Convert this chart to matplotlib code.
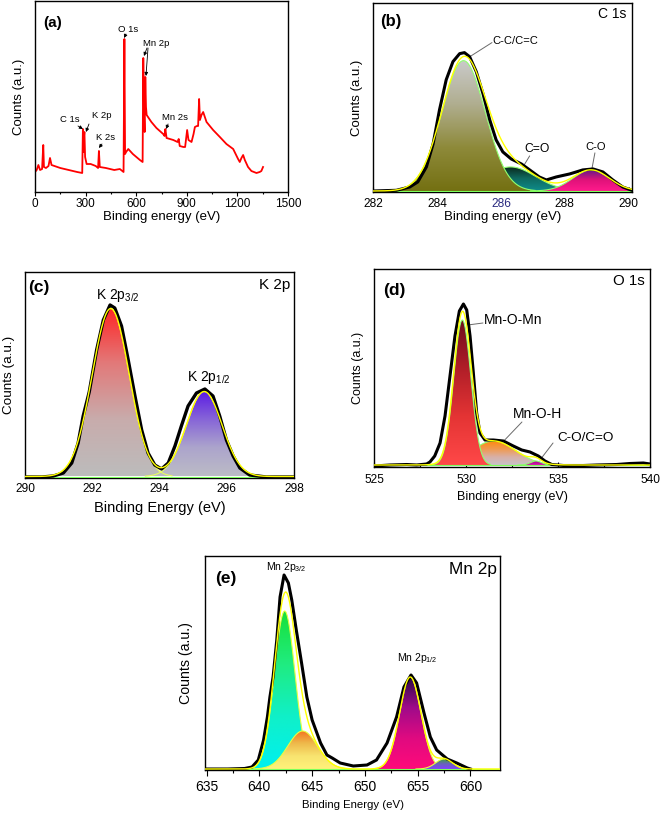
import numpy as np
import matplotlib
matplotlib.use('Agg')
import matplotlib.pyplot as plt
from matplotlib.colors import LinearSegmentedColormap
from matplotlib.patches import PathPatch
from matplotlib.path import Path

plt.rcParams['font.family'] = ['Liberation Sans', 'DejaVu Sans']
plt.rcParams['mathtext.fontset'] = 'custom'
plt.rcParams['mathtext.rm'] = 'Liberation Sans'

# ---------------- (a) survey spectrum ----------------
survey_energy = [0, 10, 20, 30, 42, 49, 53, 65, 80, 89,
                 98, 150, 200, 250, 280, 284, 287, 290, 293, 297,
                 306, 330, 360, 374, 379, 384, 420, 470, 503, 525,
                 530, 534, 540, 553, 580, 622, 638, 642, 646, 650,
                 654, 658, 662, 690, 720, 760, 768, 773, 780, 820,
                 845, 852, 858, 880, 890, 902, 910, 928, 940, 948,
                 960, 967, 973, 978, 987, 997, 1017, 1056, 1096, 1135,
                 1175, 1204, 1214, 1224, 1234, 1244, 1263, 1283, 1313, 1332,
                 1342, 1352]
survey_counts = [20, 22, 27, 22, 23, 47, 25, 24, 26, 34,
                 27, 24, 22, 20, 19, 63, 40, 55, 60, 35,
                 28, 28, 26, 24, 41, 25, 24, 22, 23, 20,
                 153, 38, 40, 43, 38, 32, 30, 134, 80, 60,
                 115, 85, 77, 70, 64, 58, 56, 63, 54, 52,
                 50, 53, 46, 45, 45, 62, 52, 50, 58, 65,
                 66, 66, 93, 72, 77, 80, 70, 62, 55, 48,
                 43, 33, 30, 34, 37, 32, 25, 21, 19, 20,
                 21, 25]
survey_ticks = [0, 300, 600, 900, 1200, 1500]
survey_labels = ['C 1s', 'K 2p', 'K 2s', 'O 1s', 'Mn 2p', 'Mn 2s']
survey_label_xy = [(207, 73), (397, 76), (421, 55), (551, 163), (717, 148), (830, 74)]

# ---------------- (b) C 1s ----------------
c1s_data_energy = [282.0, 282.73, 283.15, 283.4, 283.67, 283.88, 284.08, 284.29, 284.5, 284.71,
                   284.86, 285.02, 285.23, 285.44, 285.65, 285.85, 286.06, 286.32, 286.64, 286.9,
                   287.2, 287.42, 287.73, 288.15, 288.56, 288.88, 289.19, 289.5, 289.81, 290.07]
c1s_data_counts = [1, 1.7, 5, 10, 25, 48, 82, 112, 130, 138,
                   139, 135, 120, 98, 72, 52, 40, 33, 28, 22,
                   15, 12, 15, 18, 22, 23, 20, 12, 5, 2]
c1s_names = ['C-C/C=C', 'C=O', 'C-O']
c1s_centers = [284.83, 286.3, 288.82]
c1s_heights = [130, 24, 21]
c1s_fwhm = [1.6, 1.85, 1.35]
c1s_baseline = 1.0
c1s_ticks = [282, 284, 286, 288, 290]

# ---------------- (c) K 2p ----------------
k2p_data_energy = [290.0, 290.5, 290.84, 291.14, 291.39, 291.58, 291.73, 291.91, 292.13, 292.33,
                   292.53, 292.67, 292.87, 293.07, 293.27, 293.47, 293.66, 293.86, 294.06, 294.26,
                   294.46, 294.65, 294.85, 295.1, 295.35, 295.59, 295.79, 295.99, 296.19, 296.39,
                   296.68, 297.18, 298.0]
k2p_data_counts = [1, 1, 2, 5, 15, 35, 62, 86, 128, 158,
                   173, 170, 152, 118, 82, 48, 25, 13, 9, 15,
                   32, 52, 72, 85, 89, 82, 62, 38, 22, 10,
                   3, 1, 1]
k2p_names = ['K 2p$_{\\mathregular{3/2}}$', 'K 2p$_{\\mathregular{1/2}}$']
k2p_centers = [292.55, 295.33]
k2p_heights = [168, 85]
k2p_fwhm = [1.3, 1.25]
k2p_baseline = 1.5
k2p_ticks = [290, 292, 294, 296, 298]

# ---------------- (d) O 1s ----------------
o1s_data_energy = [525.0, 525.87, 526.78, 527.32, 527.86, 528.04, 528.3, 528.59, 528.86, 529.13,
                   529.4, 529.64, 529.86, 530.04, 530.22, 530.4, 530.58, 530.76, 531.03, 531.49,
                   532.03, 532.57, 533.03, 533.48, 533.93, 534.29, 534.66, 535.3, 536.38, 537.1,
                   538.19, 538.91, 539.64, 540.0]
o1s_data_counts = [1, 2, 2.5, 2, 3, 5, 11, 24, 51, 91,
                   131, 156, 163, 157, 131, 94, 54, 34, 27, 27,
                   26, 21, 17, 15, 11, 6, 2.5, 1.5, 1.5, 2,
                   2.5, 3.5, 4, 3]
o1s_names = ['Mn-O-Mn', 'Mn-O-H', 'C-O/C=O']
o1s_centers = [529.8, 531.5, 533.8]
o1s_heights = [145, 24, 4]
o1s_fwhm = [1.1, 2.8, 0.7]
o1s_baseline = 2.0
o1s_ticks = [525, 530, 535, 540]

# ---------------- (e) Mn 2p ----------------
mn2p_data_energy = [635.0, 637.0, 638.6, 639.3, 639.9, 640.4, 640.76, 641.0, 641.3, 641.65,
                    641.96, 642.34, 642.75, 643.07, 643.5, 644.0, 644.5, 645.0, 645.8, 646.4,
                    646.9, 647.66, 648.9, 650.2, 651.1, 652.1, 653.0, 653.7, 654.37, 654.9,
                    655.6, 656.2, 656.8, 657.8, 658.7, 659.7, 660.0]
mn2p_data_counts = [1, 1, 1.5, 3, 10, 30, 53, 73, 93, 130,
                    173, 195, 187, 170, 140, 107, 73, 50, 27, 15,
                    12, 7, 4, 5, 10, 27, 53, 83, 95, 87,
                    57, 33, 20, 11, 7, 2, 1]
mn2p_names = ['Mn 2p$_{\\mathregular{3/2}}$', 'satellite', 'Mn 2p$_{\\mathregular{1/2}}$', 'satellite 2']
mn2p_centers = [642.4, 644.1, 654.3, 657.5]
mn2p_heights = [158, 38, 92, 10]
mn2p_fwhm = [2.3, 3.3, 2.4, 1.9]
mn2p_baseline = 1.0
mn2p_ticks = [635, 640, 645, 650, 655, 660]


def gauss(x, c, h, fwhm):
    s = fwhm / 2.3548
    return h * np.exp(-0.5 * ((x - c) / s) ** 2)


def gradient_peak(ax, c, h, fwhm, base, colors, edge, z):
    s = fwhm / 2.3548
    x = np.linspace(c - 3.3 * s, c + 3.3 * s, 300)
    y = base + gauss(x, c, h, fwhm)
    verts = np.vstack([np.column_stack([x, y]),
                       np.column_stack([x[::-1], np.full_like(x, base)]),
                       [[x[0], y[0]]]])
    codes = [Path.MOVETO] + [Path.LINETO] * (len(verts) - 2) + [Path.CLOSEPOLY]
    patch = PathPatch(Path(verts, codes), facecolor='none', edgecolor='none',
                      transform=ax.transData)
    ax.add_patch(patch)
    cmap = LinearSegmentedColormap.from_list('g', colors)
    grad = np.linspace(0, 1, 256)[:, None]
    im = ax.imshow(grad, extent=[x[0], x[-1], base, base + h], origin='lower',
                   aspect='auto', cmap=cmap, zorder=z, interpolation='bilinear')
    im.set_clip_path(patch)
    ax.plot(x, y, color=edge, lw=0.8, zorder=z + 0.1)


def envelope(ax, xlim, centers, heights, fwhm, base, z=6):
    x = np.linspace(xlim[0], xlim[1], 800)
    y = np.full_like(x, base)
    for c, h, f in zip(centers, heights, fwhm):
        y = y + gauss(x, c, h, f)
    ax.plot(x, y, color='#ffff00', lw=1.0, zorder=z + 0.2)


def style(ax, xlim, ylim, ticks, minor, direction, labelsize, pad, length=3.5):
    ax.set_xlim(*xlim)
    ax.set_ylim(*ylim)
    ax.set_xticks(ticks)
    if minor is not None:
        ax.set_xticks(minor, minor=True)
    ax.set_yticks([])
    ax.tick_params(axis='x', which='major', direction=direction, length=length,
                   width=0.8, labelsize=labelsize, pad=pad)
    ax.tick_params(axis='x', which='minor', direction=direction, length=length * 0.6,
                   width=0.8)
    for sp in ax.spines.values():
        sp.set_linewidth(1.0)
        sp.set_color('black')


fig = plt.figure(figsize=(6.61, 8.13), dpi=100)
W, H = 661.0, 813.0


def add_axes(l, r, t, b):
    return fig.add_axes([l / W, 1 - b / H, (r - l) / W, (b - t) / H])


# ================= (a) =================
ax = add_axes(35, 288, 1, 192)
ax.plot(survey_energy, survey_counts, color='#ff0000', lw=1.3)
style(ax, (0, 1500), (0, 191), survey_ticks, np.arange(150, 1500, 300), 'out', 8.5, 1.5, 3)
ax.set_xlabel('Binding energy (eV)', fontsize=9.5)
ax.xaxis.set_label_coords(0.5, -0.131)
ax.xaxis.label.set_va('center')
ax.set_ylabel('Counts (a.u.)', fontsize=9.5, va='center')
ax.yaxis.set_label_coords(-0.063, 0.5)
ax.text(0.032, 0.885, '(a)', transform=ax.transAxes, fontsize=11, fontweight='bold',
        ha='left', va='center')
arrow_tails = [(255, 66), (320, 68), (397, 48), (539, 158), (664, 144), (789, 68)]
arrow_heads = [(284, 63), (302, 60), (379, 44), (528, 154), (646, 136), (777, 63)]
for lab, xy in zip(survey_labels, survey_label_xy):
    ax.text(xy[0], xy[1], lab, fontsize=6.8, ha='center', va='center')
for t, hd in zip(arrow_tails, arrow_heads):
    ax.annotate('', xy=hd, xytext=t,
                arrowprops=dict(arrowstyle='-|>', color='black', lw=0.6, mutation_scale=5,
                                shrinkA=0, shrinkB=0))
ax.annotate('', xy=(658, 116), xytext=(670, 144),
            arrowprops=dict(arrowstyle='-|>', color='black', lw=0.6, mutation_scale=5,
                            shrinkA=0, shrinkB=0))

# ================= (b) =================
ax = add_axes(373, 632, 3, 192)
xl = (282, 290.1)
ax.axhline(c1s_baseline, color='#7cff5a', lw=0.8, zorder=5)
gradient_peak(ax, c1s_centers[1], c1s_heights[1], c1s_fwhm[1], c1s_baseline,
              ['#0e8c8c', '#0f6a60', '#0a2418'], '#90ff70', 2)
gradient_peak(ax, c1s_centers[0], c1s_heights[0], c1s_fwhm[0], c1s_baseline,
              ['#747012', '#8e8a3a', '#b0ae90', '#cacaca'], '#90ff70', 3)
gradient_peak(ax, c1s_centers[2], c1s_heights[2], c1s_fwhm[2], c1s_baseline,
              ['#ff1a8c', '#e0127a', '#5a1a8a'], '#90ff70', 3)
ax.plot(c1s_data_energy, c1s_data_counts, color='black', lw=2.2, zorder=6)
envelope(ax, xl, c1s_centers, c1s_heights, c1s_fwhm, c1s_baseline)
style(ax, xl, (0, 188.5), c1s_ticks, np.arange(283, 290, 2), 'in', 8.6, 4, 3.5)
ax.get_xticklabels()[2].set_color('#2a2a80')
ax.set_xlabel('Binding energy (eV)', fontsize=9.5)
ax.xaxis.set_label_coords(0.5, -0.132)
ax.xaxis.label.set_va('center')
ax.set_ylabel('Counts (a.u.)', fontsize=9.5, va='center')
ax.yaxis.set_label_coords(-0.06, 0.5)
ax.text(0.027, 0.9, '(b)', transform=ax.transAxes, fontsize=12, fontweight='bold',
        ha='left', va='center')
ax.text(0.978, 0.94, 'C 1s', transform=ax.transAxes, fontsize=10, ha='right', va='center')
gline = dict(arrowstyle='-', color='#6a6a6a', lw=0.7, shrinkA=0, shrinkB=0)
ax.text(286.44, 151, c1s_names[0], fontsize=8, ha='center', va='center')
ax.annotate('', xy=(285.03, 135), xytext=(285.72, 149), arrowprops=gline)
ax.text(287.12, 43, c1s_names[1], fontsize=8.7, ha='center', va='center')
ax.annotate('', xy=(286.69, 25), xytext=(286.9, 36), arrowprops=gline)
ax.text(288.97, 45, c1s_names[2], fontsize=8, ha='center', va='center')
ax.annotate('', xy=(288.84, 22), xytext=(288.94, 39), arrowprops=gline)

# ================= (c) =================
ax = add_axes(25, 294, 272, 478)
xl = (290, 298)
ax.axhline(k2p_baseline - 0.5, color='#7cff5a', lw=0.8, zorder=5)
gradient_peak(ax, k2p_centers[0], k2p_heights[0], k2p_fwhm[0], k2p_baseline,
              ['#bcbcbc', '#c8acac', '#e27a7a', '#ff2424'], '#e8ff60', 3)
gradient_peak(ax, k2p_centers[1], k2p_heights[1], k2p_fwhm[1], k2p_baseline,
              ['#bcbcc6', '#aca4cc', '#8664d8', '#5a18e4'], '#e8ff60', 3)
ax.plot(k2p_data_energy, k2p_data_counts, color='black', lw=2.4, zorder=6)
envelope(ax, xl, k2p_centers, k2p_heights, k2p_fwhm, k2p_baseline)
style(ax, xl, (0, 206), k2p_ticks, None, 'in', 8.6, 3.5, 0)
ax.set_xlabel('Binding Energy (eV)', fontsize=10.5)
ax.xaxis.set_label_coords(0.5, -0.146)
ax.xaxis.label.set_va('center')
ax.set_ylabel('Counts (a.u.)', fontsize=9.7, va='center')
ax.yaxis.set_label_coords(-0.061, 0.5)
ax.text(0.011, 0.927, '(c)', transform=ax.transAxes, fontsize=12.5, fontweight='bold',
        ha='left', va='center')
ax.text(0.985, 0.937, 'K 2p', transform=ax.transAxes, fontsize=11, ha='right', va='center')
ax.text(292.75, 183, k2p_names[0], fontsize=10, ha='center', va='center')
ax.text(295.48, 101, k2p_names[1], fontsize=10, ha='center', va='center')

# ================= (d) =================
ax = add_axes(374, 650, 269, 467)
xl = (525, 540)
ax.axhline(o1s_baseline - 0.5, color='#7cff5a', lw=0.8, zorder=5)
gradient_peak(ax, o1s_centers[1], o1s_heights[1], o1s_fwhm[1], o1s_baseline,
              ['#c8c2c8', '#d8b0a8', '#f09a50', '#ff8a10'], '#90ff70', 2)
gradient_peak(ax, o1s_centers[0], o1s_heights[0], o1s_fwhm[0], o1s_baseline,
              ['#ff4848', '#e43434', '#b01e28', '#6c0e1c'], '#90ff70', 3)
gradient_peak(ax, o1s_centers[2], o1s_heights[2], o1s_fwhm[2], o1s_baseline,
              ['#e010b0', '#9a108a'], '#90ff70', 3)
ax.plot(o1s_data_energy, o1s_data_counts, color='black', lw=2.2, zorder=6)
envelope(ax, xl, o1s_centers, o1s_heights, o1s_fwhm, o1s_baseline)
style(ax, xl, (0, 198), o1s_ticks, [527.5, 532.5, 537.5], 'in', 8.6, 5, 3.5)
ax.set_xlabel('Binding energy (eV)', fontsize=9)
ax.xaxis.set_label_coords(0.5, -0.152)
ax.xaxis.label.set_va('center')
ax.set_ylabel('Counts (a.u.)', fontsize=9, va='center')
ax.yaxis.set_label_coords(-0.058, 0.5)
ax.text(0.033, 0.889, '(d)', transform=ax.transAxes, fontsize=12.5, fontweight='bold',
        ha='left', va='center')
ax.text(0.982, 0.939, 'O 1s', transform=ax.transAxes, fontsize=10.8, ha='right', va='center')
ax.text(530.98, 147, o1s_names[0], fontsize=10, ha='left', va='center')
ax.annotate('', xy=(530.1, 142), xytext=(530.92, 144), arrowprops=gline)
ax.text(532.55, 53, o1s_names[1], fontsize=10, ha='left', va='center')
ax.annotate('', xy=(532.0, 25), xytext=(533.04, 45), arrowprops=gline)
ax.text(534.95, 29, o1s_names[2], fontsize=9.7, ha='left', va='center')
ax.annotate('', xy=(534.02, 7), xytext=(534.73, 24), arrowprops=gline)

# ================= (e) =================
ax = add_axes(205, 500, 556, 770)
xl = (634.85, 662.8)
ax.axhline(mn2p_baseline - 0.3, color='#7cff5a', lw=0.8, zorder=5)
gradient_peak(ax, mn2p_centers[0], mn2p_heights[0], mn2p_fwhm[0], mn2p_baseline,
              ['#00f0f0', '#10f0c8', '#20ec80', '#18e038'], '#e8ff40', 2)
gradient_peak(ax, mn2p_centers[1], mn2p_heights[1], mn2p_fwhm[1], mn2p_baseline,
              ['#fff27a', '#f8e470', '#eeb84a', '#f47020'], '#e8ff40', 3)
gradient_peak(ax, mn2p_centers[2], mn2p_heights[2], mn2p_fwhm[2], mn2p_baseline,
              ['#ff0a7a', '#e00a80', '#a00a8a', '#2a0a48'], '#e8ff40', 2)
gradient_peak(ax, mn2p_centers[3], mn2p_heights[3], mn2p_fwhm[3], mn2p_baseline,
              ['#8040ff', '#6a60c0', '#40a040'], '#e8ff40', 3)
ax.plot(mn2p_data_energy, mn2p_data_counts, color='black', lw=2.2, zorder=6)
envelope(ax, xl, mn2p_centers, mn2p_heights, mn2p_fwhm, mn2p_baseline)
style(ax, xl, (0, 214), mn2p_ticks, np.arange(637.5, 662, 5), 'out', 10, 3, 4)
ax.set_xlabel('Binding Energy (eV)', fontsize=8.2)
ax.xaxis.set_label_coords(0.5, -0.164)
ax.xaxis.label.set_va('center')
ax.set_ylabel('Counts (a.u.)', fontsize=10.2, va='center')
ax.yaxis.set_label_coords(-0.064, 0.5)
ax.text(0.034, 0.897, '(e)', transform=ax.transAxes, fontsize=12.5, fontweight='bold',
        ha='left', va='center')
ax.text(0.99, 0.935, 'Mn 2p', transform=ax.transAxes, fontsize=12.4, ha='right', va='center')
ax.text(642.6, 203, mn2p_names[0], fontsize=7.5, ha='center', va='center')
ax.text(654.98, 112, mn2p_names[2], fontsize=7.5, ha='center', va='center')

fig.savefig('out.png', dpi=100)
